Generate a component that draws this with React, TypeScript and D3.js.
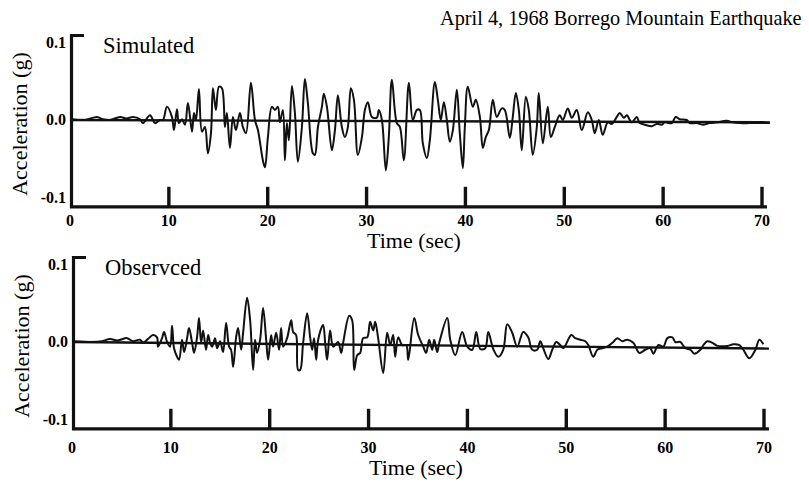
import React from 'react';
import * as d3 from 'd3';

// April 4, 1968 Borrego Mountain earthquake: simulated vs observed accelerograms
// each point: [time (sec), acceleration (g)]
const simulated: [number, number][] = [
  [0.2, 0.001], [1.5, 0], [2.73, 0.004], [3.3, 0.001], [4.04, 0], [5.06, 0.004], [5.7, 0.002],
  [6.37, 0.004], [7.08, 0.001],
  [7.38, -0.004], [8.09, 0.006], [8.59, -0.004], [9.1, 0], [9.4, 0], [9.81, 0.017],
  [10.31, 0.004], [10.52, -0.013], [10.82, 0.014], [11.02, -0.004], [11.32, 0.001], [11.63, -0.006],
  [11.93, 0.022], [12.34, -0.015], [12.54, 0.009], [12.74, 0], [13.04, 0.04], [13.35, -0.015],
  [13.65, -0.009], [13.95, -0.043], [14.26, -0.017], [14.46, 0.041], [14.76, 0.013], [15.07, 0.043],
  [15.37, 0.041], [15.67, -0.009], [15.87, 0.009], [16.18, -0.036], [16.48, 0.004], [16.78, -0.013],
  [17.19, 0.009], [17.49, -0.009], [17.8, -0.017], [18.3, 0.048], [18.71, 0], [19.01, -0.013],
  [19.51, -0.052], [19.72, -0.061], [20.02, -0.022], [20.42, 0.017], [20.73, 0.013], [21.03, 0.017],
  [21.23, -0.003], [21.54, 0.013], [21.74, -0.052], [21.94, -0.004], [22.14, -0.026], [22.45, 0.044],
  [22.75, 0.009], [23.05, -0.054], [23.46, -0.009], [23.76, 0.053], [24.06, 0.022], [24.57, -0.043],
  [24.77, -0.045], [25.08, -0.009], [25.48, 0.017], [25.68, 0.034], [25.99, 0.017], [26.49, -0.039],
  [26.8, -0.013], [27.1, 0.032], [27.5, -0.009], [27.81, -0.022], [28.11, -0.009], [28.41, 0.041],
  [28.72, 0.026], [29.12, -0.045], [29.53, -0.022], [29.83, 0.013], [30.13, 0.023], [30.54, 0.004],
  [31.04, 0.003], [31.24, 0.013], [31.55, 0], [31.95, -0.065], [32.25, -0.022], [32.56, 0.052],
  [33.06, -0.004], [33.37, -0.009], [33.77, -0.052], [34.28, 0.048], [34.68, 0], [35.09, 0.013],
  [35.39, 0.013], [35.69, -0.03], [36.1, -0.049], [36.4, -0.026], [36.91, 0.049], [37.21, 0.026],
  [37.51, 0], [37.82, 0.023], [38.12, 0], [38.42, -0.028], [38.73, -0.013], [39.13, 0.039],
  [39.43, -0.017], [39.74, -0.062], [39.94, -0.009], [40.24, 0.043], [40.75, 0.017], [41.05, 0.026],
  [41.46, 0.004], [41.76, -0.036], [42.06, -0.022], [42.37, -0.013], [42.77, 0.026], [43.17, 0.004],
  [43.68, 0.015], [43.98, 0.013], [44.49, -0.023], [44.79, 0.004], [45.1, 0.035], [45.4, 0.013],
  [45.7, -0.039], [46.11, 0.03], [46.41, 0.013], [46.81, -0.045], [47.22, -0.009], [47.42, 0.035],
  [47.83, -0.03], [48.33, 0.017], [48.64, -0.022], [49.04, -0.009], [49.54, 0.006], [49.85, 0],
  [50.35, 0.015], [50.76, 0.003], [51.26, 0.013], [51.77, -0.013], [52.38, 0.01], [52.78, 0],
  [53.08, -0.017], [53.49, 0], [53.89, -0.019], [54.4, -0.003], [54.8, -0.005], [55.31, 0.004],
  [55.61, 0.009], [56.02, 0.003], [56.32, 0.006], [56.83, -0.003], [57.33, 0.004], [57.63, -0.004],
  [58.14, -0.006], [58.85, -0.008], [59.35, -0.005], [59.86, -0.006], [60.16, -0.003], [60.87, -0.004],
  [61.27, 0.004], [61.68, 0.001], [62.39, 0], [62.69, -0.004], [63.4, -0.004], [64.0, -0.006],
  [64.71, -0.004], [65.42, -0.003], [66.43, -0.001], [67.04, -0.003], [67.75, -0.004], [68.76, -0.004],
  [70.78, -0.004],
];

const observed: [number, number][] = [
  [0.1, 0.001], [2.0, 0], [3.0, 0.001], [3.85, 0.004], [4.6, 0.002], [5.57, 0.005], [6.17, 0.001],
  [6.88, 0.003], [7.19, -0.001],
  [7.69, 0.004], [8.2, 0.009], [8.6, 0.006], [8.7, -0.006], [9.11, 0.005], [9.31, 0.013],
  [9.62, 0], [9.92, -0.006], [10.12, 0.021], [10.32, -0.008], [10.63, -0.019], [10.83, -0.023],
  [11.13, 0.003], [11.34, -0.013], [11.64, 0.005], [11.84, 0.018], [12.15, -0.001], [12.35, -0.014],
  [12.65, 0.006], [12.85, 0.031], [13.06, -0.001], [13.26, 0.015], [13.56, -0.01], [13.77, 0.009],
  [13.97, -0.001], [14.17, -0.006], [14.47, 0.005], [14.68, -0.008], [14.98, 0.001], [15.28, -0.013],
  [15.59, 0.025], [15.89, -0.006], [16.09, -0.01], [16.3, -0.032], [16.6, 0.006], [16.8, 0.018],
  [17.11, -0.01], [17.31, 0.012], [17.71, 0.057], [18.02, 0.028], [18.32, -0.036], [18.52, 0.003],
  [18.72, -0.014], [19.03, 0.003], [19.33, 0.044], [19.64, 0.003], [19.84, -0.023], [20.14, 0.009],
  [20.34, -0.006], [20.65, 0.012], [20.95, -0.01], [21.15, 0.018], [21.36, -0.006], [21.76, 0.005],
  [22.17, 0.028], [22.37, 0.013], [22.67, 0.009], [22.87, -0.036], [23.08, -0.036], [23.38, -0.001],
  [23.79, 0.037], [24.09, 0.006], [24.29, -0.01], [24.49, 0.005], [24.7, -0.023], [24.9, 0.003],
  [25.4, 0.022], [25.61, -0.001], [25.81, -0.023], [26.11, 0.015], [26.42, -0.006], [26.92, 0],
  [27.23, -0.014], [27.43, -0.001], [28.04, 0.034], [28.34, 0.028], [28.54, -0.036], [28.85, -0.017],
  [29.15, -0.014], [29.45, 0.005], [29.86, 0.006], [30.16, 0.026], [30.47, 0.015], [30.67, 0.026],
  [30.97, 0.005], [31.48, -0.04], [31.88, 0.012], [32.19, -0.004], [32.49, 0.009], [32.69, -0.019],
  [33.0, 0.006], [33.4, -0.004], [33.81, -0.004], [34.01, -0.023], [34.62, 0.031], [35.02, 0.009],
  [35.53, -0.006], [35.83, -0.014], [36.13, 0.003], [36.44, -0.01], [36.64, 0.003], [36.94, -0.013],
  [37.15, -0.001], [37.96, 0.031], [38.26, 0.003], [38.77, -0.017], [39.47, 0.013], [39.98, -0.006],
  [40.49, -0.01], [40.89, 0.013], [41.3, -0.009], [41.8, -0.008], [42.11, 0.013], [42.61, -0.009],
  [43.12, -0.019], [43.62, -0.01], [44.03, 0.023], [44.53, 0.012], [45.04, -0.006], [45.65, 0.013],
  [46.15, 0.006], [46.56, -0.01], [47.06, -0.01], [47.37, 0.001], [47.67, -0.008], [48.18, -0.022],
  [48.58, -0.01], [48.99, 0], [49.39, -0.004], [49.7, -0.008], [50.51, 0.009], [50.91, 0.005],
  [51.42, 0.003], [51.92, 0.001], [52.23, -0.004], [52.73, -0.019], [53.14, -0.01], [53.64, -0.008],
  [54.15, -0.006], [54.76, 0], [55.16, 0.005], [55.67, 0.001], [56.17, 0.003], [56.78, -0.001],
  [57.39, -0.014], [57.99, -0.01], [58.5, -0.008], [58.81, -0.015], [59.31, -0.004], [59.82, -0.006],
  [60.22, 0.005], [60.73, 0.006], [61.03, 0], [61.54, 0], [62.04, -0.008], [62.55, -0.01],
  [62.96, -0.015], [63.56, -0.01], [63.87, -0.004], [64.27, 0.001], [64.78, -0.001], [65.28, -0.005],
  [66.3, -0.005], [66.9, -0.003], [67.51, -0.004], [67.91, -0.01], [68.52, -0.021], [69.13, -0.01],
  [69.53, 0.003], [69.94, -0.003],
];

// zero line of each record (drifts a little in the scan)
const simulatedZero: [number, number][] = [[0, 0], [70.8, -0.003]];
const observedZero: [number, number][] = [[0, 0], [70.5, -0.0085]];

const xTicks = [0, 10, 20, 30, 40, 50, 60, 70];
const yTicks = [0.1, 0.0, -0.1];
const yTickLabels = ['0.1', '0.0', '-0.1'];

const title = 'April 4, 1968 Borrego Mountain Earthquake';
const FONT = '"Liberation Serif", "Times New Roman", serif';

const W = 692;
const H = 172.8;

const x = d3.scaleLinear().domain([0, 70]).range([0, W]);
const y = d3.scaleLinear().domain([-0.112, 0.111]).range([H, 0]);
const zeroLine = d3.line<[number, number]>().x(d => x(d[0])).y(d => y(d[1]));
const trace = d3
  .line<[number, number]>()
  .x(d => x(d[0]))
  .y(d => y(d[1]))
  .curve(d3.curveCatmullRom.alpha(0.5));

const panels = [
  { name: 'Simulated', data: simulated, zero: simulatedZero, left: 70, top: 34, labelDy: 19 },
  { name: 'Observced', data: observed, zero: observedZero, left: 72, top: 256, labelDy: 24 },
];

const Panel = ({ p }: { p: typeof panels[number] }) => (
  <g transform={`translate(${p.left},${p.top})`}>
    {/* y label */}
    <text
      transform={`translate(${-43},${y(0) + 4}) rotate(-90)`}
      textAnchor="middle"
      fontSize={22}
      fontFamily={FONT}
    >
      Acceleration (g)
    </text>
    {yTicks.map((v, i) => (
      <text
        key={v}
        x={-4}
        y={y(v) + 5}
        textAnchor="end"
        fontSize={16}
        fontWeight="bold"
        fontFamily={FONT}
      >
        {yTickLabels[i]}
      </text>
    ))}
    {/* axes */}
    <path
      d={`M14,1.5H1.5V${H}H${x(70.5)}`}
      fill="none"
      stroke="#111"
      strokeWidth={3.2}
    />
    {xTicks.filter(t => t > 0).map(t => (
      <line key={t} x1={x(t)} x2={x(t)} y1={H} y2={H - 20} stroke="#111" strokeWidth={3.4} />
    ))}
    {xTicks.map(t => (
      <text
        key={t}
        x={x(t)}
        y={H + p.labelDy}
        textAnchor="middle"
        fontSize={16}
        fontWeight="bold"
        fontFamily={FONT}
      >
        {t}
      </text>
    ))}
    <text
      x={x(35) - 2}
      y={H + p.labelDy + 22}
      textAnchor="middle"
      fontSize={22}
      fontFamily={FONT}
    >
      Time (sec)
    </text>
    <text x={33} y={19} fontSize={22.5} fontFamily={FONT}>
      {p.name}
    </text>
    {/* zero line and trace */}
    <path d={zeroLine(p.zero) ?? ''} fill="none" stroke="#111" strokeWidth={2.4} />
    <path
      d={trace(p.data) ?? ''}
      fill="none"
      stroke="#111"
      strokeWidth={2}
      strokeLinejoin="round"
    />
  </g>
);

export default function App() {
  return (
    <svg width={809} height={484} style={{ position: 'absolute', left: 0, top: 0, background: '#fff' }}>
      <text x={440} y={25} fontSize={20.3} fontFamily={FONT}>
        {title}
      </text>
      {panels.map(p => (
        <Panel key={p.name} p={p} />
      ))}
    </svg>
  );
}
